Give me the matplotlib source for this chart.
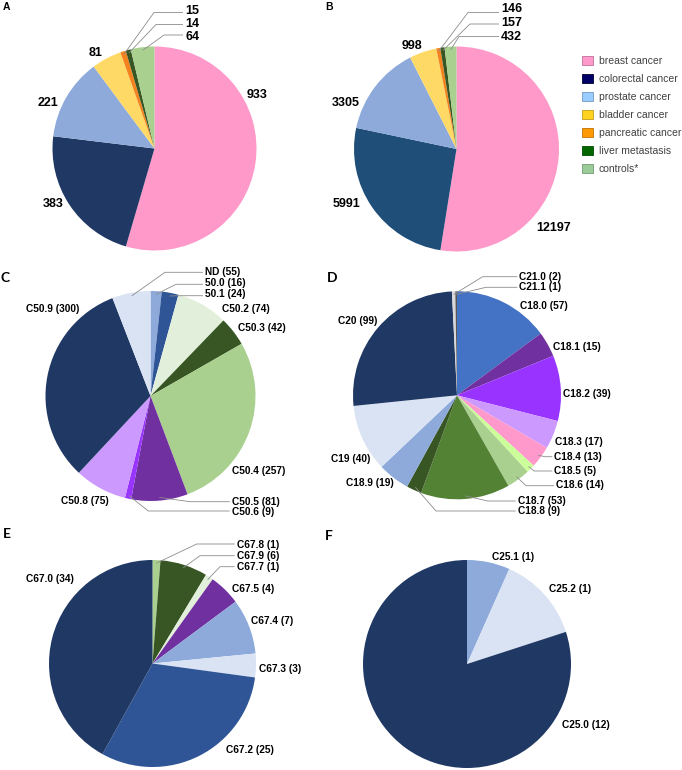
import numpy as np
import matplotlib.pyplot as plt
from matplotlib.patches import Patch

# figure size in pixels, everything below is laid out in image pixels (y down)
W, H = 682, 770

# ---- data ----
groups = ["breast cancer", "colorectal cancer", "prostate cancer", "bladder cancer",
          "pancreatic cancer", "liver metastasis", "controls*"]
samples_a = [933, 383, 221, 81, 15, 14, 64]
spectra_b = [12197, 5991, 3305, 998, 146, 157, 432]

# C: breast cancer subsites
values_c = [16, 24, 74, 42, 257, 81, 9, 75, 300, 55]
labels_c = ["50.0 (16)", "50.1 (24)", "C50.2 (74)", "C50.3 (42)", "C50.4 (257)",
            "C50.5 (81)", "C50.6 (9)", "C50.8 (75)", "C50.9 (300)", "ND (55)"]

# D: colorectal subsites
values_d = [57, 15, 39, 17, 13, 5, 14, 53, 9, 19, 40, 99, 2, 1]
labels_d = ["C18.0 (57)", "C18.1 (15)", "C18.2 (39)", "C18.3 (17)", "C18.4 (13)",
            "C18.5 (5)", "C18.6 (14)", "C18.7 (53)", "C18.8 (9)", "C18.9 (19)",
            "C19 (40)", "C20 (99)", "C21.0 (2)", "C21.1 (1)"]

# E: bladder subsites
values_e = [1, 6, 1, 4, 7, 3, 25, 34]
labels_e = ["C67.8 (1)", "C67.9 (6)", "C67.7 (1)", "C67.5 (4)", "C67.4 (7)",
            "C67.3 (3)", "C67.2 (25)", "C67.0 (34)"]

# F: pancreatic subsites (slices as drawn in the original)
values_f = [1, 2, 12]
labels_f = ["C25.1 (1)", "C25.2 (1)", "C25.0 (12)"]

# ---- colours ----
legend_colors = ["#ff99cc", "#000066", "#99ccff", "#ffd320", "#ff9900", "#006600", "#99cc99"]
legend_edges = ["#c0709a", "#000033", "#7399c0", "#c09f18", "#c07300", "#004d00", "#739973"]
colors_a = ["#fe99c9", "#1f3864", "#8eaadb", "#ffd966", "#f4831f", "#375623", "#a9d08e"]
colors_b = ["#fe99c9", "#1f4e79", "#8eaadb", "#ffd966", "#f4831f", "#375623", "#a9d08e"]
colors_c = ["#8eaadb", "#2f5597", "#e2efda", "#375623", "#a9d08e", "#7030a0",
            "#9933ff", "#cc99ff", "#1f3864", "#dae3f3"]
colors_d = ["#4472c4", "#7030a0", "#9933ff", "#cc99ff", "#ff99cc", "#ccff99", "#a9d08e",
            "#548235", "#375623", "#8eaadb", "#dae3f3", "#1f3864", "#d9d9d9", "#595959"]
colors_e = ["#a9d08e", "#375623", "#e2efda", "#7030a0", "#8eaadb", "#dae3f3",
            "#2f5597", "#1f3864"]
colors_f = ["#8eaadb", "#dae3f3", "#1f3864"]

LINE = "#8c8c8c"
FONT = "Liberation Sans"

fig = plt.figure(figsize=(W / 100, H / 100), dpi=100)
ax = fig.add_axes([0, 0, 1, 1])


def px(x, y):
    return x, H - y


def draw_pie(values, colors, center, radius):
    wedges, _ = ax.pie(values, colors=colors, startangle=90, counterclock=False,
                       center=px(*center), radius=radius, frame=True,
                       wedgeprops=dict(linewidth=0))
    return wedges


def plain(text, pos, size, ha="center"):
    x, y = px(*pos)
    ax.text(x, y, text, ha=ha, va="center", fontsize=size, fontweight="bold",
            family=FONT, color="black")


def leader(wedge, text, pos, elbow, size, frac=0.97):
    # line from inside the slice to an elbow, then flat to the label
    mid = np.deg2rad((wedge.theta1 + wedge.theta2) / 2)
    cx, cy = wedge.center
    r = wedge.r * frac
    a = (cx + r * np.cos(mid), cy + r * np.sin(mid))
    e = px(*elbow)
    lx, _ = px(*pos)
    ax.plot([a[0], e[0], lx - 2], [a[1], e[1], e[1]], color=LINE, lw=0.6,
            solid_capstyle="butt")
    plain(text, pos, size, ha="left")


# ---- A ----
w = draw_pie(samples_a, colors_a, (154.5, 148.5), 102)
for v, p in zip(samples_a[:4], [(257.5, 95.5), (53, 204), (47.5, 103), (96, 53.5)]):
    plain(str(v), p, 9)
for i, p, e in [(4, (185, 11), (154, 12.5)), (5, (185, 24), (156, 24.5)),
                (6, (185, 37), (164, 35))]:
    leader(w[i], str(samples_a[i]), p, e, 9)

# ---- B ----
w = draw_pie(spectra_b, colors_b, (456.5, 149), 102.5)
for v, p in zip(spectra_b[:4], [(554, 228), (347, 204), (346, 103), (412, 46)]):
    plain(str(v), p, 9)
for i, p, e in [(4, (501, 9), (468, 12.5)), (5, (501, 23.5), (470, 24)),
                (6, (501, 37.5), (459, 36.5))]:
    leader(w[i], str(spectra_b[i]), p, e, 9)

leg = ax.legend([Patch(facecolor=c, edgecolor=ec, linewidth=0.6)
                 for c, ec in zip(legend_colors, legend_edges)], groups,
                loc="upper left", bbox_to_anchor=(582 / W, 1 - 56 / H),
                bbox_transform=fig.transFigure, frameon=False,
                prop=dict(family=FONT, size=7.5), labelcolor="#404040",
                handlelength=1.05, handleheight=0.87, handletextpad=0.55,
                labelspacing=0.77, borderpad=0, borderaxespad=0)

# ---- C ----
S = 7.3
w = draw_pie(values_c, colors_c, (150.5, 396), 105)
for i, p in [(2, (246, 309)), (3, (261.5, 328)), (4, (259, 471.3)), (7, (85, 501)),
             (8, (53, 308.7))]:
    plain(labels_c[i], p, S)
for i, p, e in [(9, (205, 271.7), (165, 272.3)), (0, (205, 283), (176, 284.3)),
                (1, (205, 294), (180, 295.7)), (5, (231.7, 501.7), (190, 501.7)),
                (6, (231.7, 512), (148.3, 511))]:
    leader(w[i], labels_c[i], p, e, S)

# ---- D ----
w = draw_pie(values_d, colors_d, (457, 395.3), 104)
for i, p in [(0, (543.5, 306)), (1, (576.5, 346.8)), (2, (587, 394)), (3, (578.5, 441.8)),
             (9, (370, 482.5)), (10, (351, 459)), (11, (358, 321))]:
    plain(labels_d[i], p, S)
for i, p, e in [(12, (519.3, 276.7), (482.7, 276.7)), (13, (519.3, 287.5), (486, 287.3)),
                (4, (554.3, 456.5), (545, 456.7)), (5, (554.3, 471), (534.3, 471)),
                (6, (556, 485), (526, 485.7)), (7, (517.7, 501), (487.7, 501)),
                (8, (517.7, 511.5), (436, 511))]:
    leader(w[i], labels_d[i], p, e, S)

# ---- E ----
w = draw_pie(values_e, colors_e, (152.5, 663.5), 103.5)
for i, p in [(3, (253, 589)), (4, (272, 620.5)), (5, (280.5, 668.7)),
             (6, (249.7, 750.3)), (7, (50, 579))]:
    plain(labels_e[i], p, S)
for i, p, e in [(0, (236.7, 544.8), (196.7, 544)), (1, (236.7, 556), (200, 555.7)),
                (2, (236.7, 567.5), (220, 566.7))]:
    leader(w[i], labels_e[i], p, e, S)

# ---- F ----
w = draw_pie(values_f, colors_f, (467, 664), 104)
for lab, p in zip(labels_f, [(513, 556.8), (569.7, 589.5), (586, 724.7)]):
    plain(lab, p, S)

# panel letters
for letter, p, size, fam in [("A", (3, 6.5), 7.5, FONT), ("B", (325, 6.5), 7.5, FONT),
                             ("C", (0.5, 277.5), 10, "Lato"), ("D", (327, 278), 10, "Lato"),
                             ("E", (2.5, 534), 10, "Lato"), ("F", (325, 535.5), 10, "Lato")]:
    x, y = px(*p)
    ax.text(x, y, letter, ha="left", va="center", fontsize=size, fontweight="bold",
            family=fam, color="black")

ax.set_xlim(0, W)
ax.set_ylim(0, H)
ax.axis("off")

fig.savefig("out.png", dpi=100)
